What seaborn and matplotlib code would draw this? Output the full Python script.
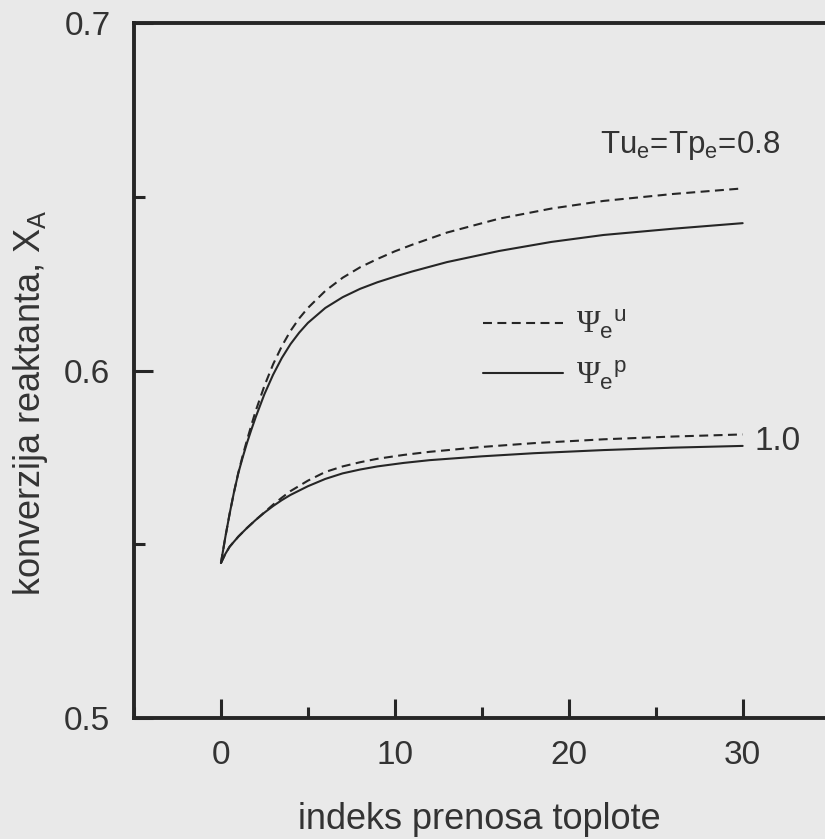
import numpy as np
import pandas as pd
import matplotlib
matplotlib.use("Agg")
import matplotlib.pyplot as plt
import seaborn as sns
from matplotlib.ticker import MultipleLocator

# ---- data ----
x_up = [0, 0.25, 0.5, 0.75, 1.0, 1.25, 1.5, 1.75, 2.0, 2.5, 3.0, 3.5, 4.0, 4.5, 5.0, 6.0, 7.0, 8.0, 9.0, 10.0, 11.0, 13.0, 16.0, 19.0, 22.0, 26.0, 30.0]
y_up_u = [0.5446, 0.5520, 0.5588, 0.5650, 0.5706, 0.5755, 0.5800, 0.5843, 0.5884, 0.5956, 0.6018, 0.6070, 0.6114, 0.6150, 0.6180, 0.6229, 0.6267, 0.6297, 0.6321, 0.6343, 0.6362, 0.6397, 0.6437, 0.6466, 0.6488, 0.6508, 0.6524]
y_up_p = [0.5446, 0.5520, 0.5588, 0.5650, 0.5705, 0.5750, 0.5792, 0.5830, 0.5866, 0.5932, 0.5988, 0.6036, 0.6076, 0.6109, 0.6137, 0.6180, 0.6211, 0.6235, 0.6254, 0.6270, 0.6285, 0.6312, 0.6344, 0.6370, 0.6390, 0.6408, 0.6424]
x_lo = [0, 0.25, 0.5, 1.0, 1.5, 2.0, 2.5, 3.0, 3.5, 4.0, 5.0, 6.0, 7.0, 8.0, 9.0, 10.5, 12.0, 15.0, 18.0, 22.0, 26.0, 30.0]
y_lo_u = [0.5446, 0.5472, 0.5493, 0.5522, 0.5547, 0.5570, 0.5592, 0.5614, 0.5634, 0.5653, 0.5683, 0.5708, 0.5724, 0.5736, 0.5746, 0.5757, 0.5766, 0.5780, 0.5791, 0.5802, 0.5810, 0.5816]
y_lo_p = [0.5446, 0.5472, 0.5493, 0.5522, 0.5547, 0.5570, 0.5591, 0.5610, 0.5627, 0.5642, 0.5667, 0.5688, 0.5704, 0.5715, 0.5724, 0.5734, 0.5742, 0.5753, 0.5762, 0.5771, 0.5778, 0.5783]

x_ticks = [0, 10, 20, 30]
y_ticks = [0.5, 0.6, 0.7]
y_tick_labels = ["0.5", "0.6", "0.7"]

xlabel = "indeks prenosa toplote"
ylabel = r"konverzija reaktanta, X$_\mathregular{A}$"
label_08 = r"Tu$_\mathregular{e}$=Tp$_\mathregular{e}$=0.8"
label_10 = "1.0"
leg_u = r"$\mathsf{\Psi}_\mathregular{e}{}^\mathregular{u}$"
leg_p = r"$\mathsf{\Psi}_\mathregular{e}{}^\mathregular{p}$"

# ---- style ----
sns.set_style("ticks")
plt.rcParams["font.family"] = ["Liberation Sans", "DejaVu Sans"]
plt.rcParams["mathtext.fontset"] = "custom"
plt.rcParams["mathtext.rm"] = "Liberation Sans"
plt.rcParams["mathtext.it"] = "Liberation Sans:italic"
plt.rcParams["mathtext.sf"] = "Liberation Serif"

bg = "#e9e9e9"
ink = "#262626"
txt = "#333333"

fig = plt.figure(figsize=(8.25, 8.39), dpi=100, facecolor=bg)
ax = fig.add_axes([134 / 825, (839 - 718) / 839, 713 / 825, 695 / 839])
ax.set_facecolor(bg)

dash = (4.3, 2.6)
lw = 1.5
sns.lineplot(x=x_up, y=y_up_u, ax=ax, color=ink, lw=lw, estimator=None, sort=False)
ax.lines[-1].set_dashes(dash)
sns.lineplot(x=x_up, y=y_up_p, ax=ax, color=ink, lw=lw, estimator=None, sort=False)
sns.lineplot(x=x_lo, y=y_lo_u, ax=ax, color=ink, lw=lw, estimator=None, sort=False)
ax.lines[-1].set_dashes(dash)
sns.lineplot(x=x_lo, y=y_lo_p, ax=ax, color=ink, lw=lw, estimator=None, sort=False)

h_u = ax.lines[0]
h_p = ax.lines[1]

ax.set_xlim(-5, 36)
ax.set_ylim(0.5, 0.7)
ax.set_xticks(x_ticks)
ax.set_yticks(y_ticks)
ax.set_yticklabels(y_tick_labels)
ax.xaxis.set_minor_locator(MultipleLocator(5))
ax.yaxis.set_minor_locator(MultipleLocator(0.05))

for s in ["left", "bottom", "top"]:
    ax.spines[s].set_linewidth(2.8)
    ax.spines[s].set_color(ink)
ax.spines["right"].set_visible(False)

ax.tick_params(which="major", direction="in", length=14, width=2.2, color=ink,
               labelsize=24, labelcolor=txt)
ax.tick_params(axis="x", which="major", pad=16)
ax.tick_params(axis="y", which="major", pad=17)
ax.tick_params(which="minor", direction="in", length=8, width=2.2, color=ink)
ax.tick_params(top=False, right=False, which="both")

ax.set_xlabel(xlabel, fontsize=26, color=txt)
ax.xaxis.set_label_coords(0.484, -0.121)
ax.set_ylabel(ylabel, fontsize=26, color=txt)
ax.yaxis.set_label_coords(-0.118, 0.453)

ax.text(21.8, 0.6626, label_08, fontsize=22.5, color=txt, ha="left", va="baseline")
ax.text(30.7, 0.5796, label_10, fontsize=24, color=txt, ha="left", va="center")

leg = ax.legend([h_u, h_p], [leg_u, leg_p], loc="upper left",
                bbox_to_anchor=(0.49, 0.59), frameon=False, fontsize=23,
                handlelength=2.5, handletextpad=0.4, labelspacing=0.55,
                borderpad=0, borderaxespad=0)
for t in leg.get_texts():
    t.set_color(txt)

fig.savefig("out.png", dpi=100, facecolor=bg)
